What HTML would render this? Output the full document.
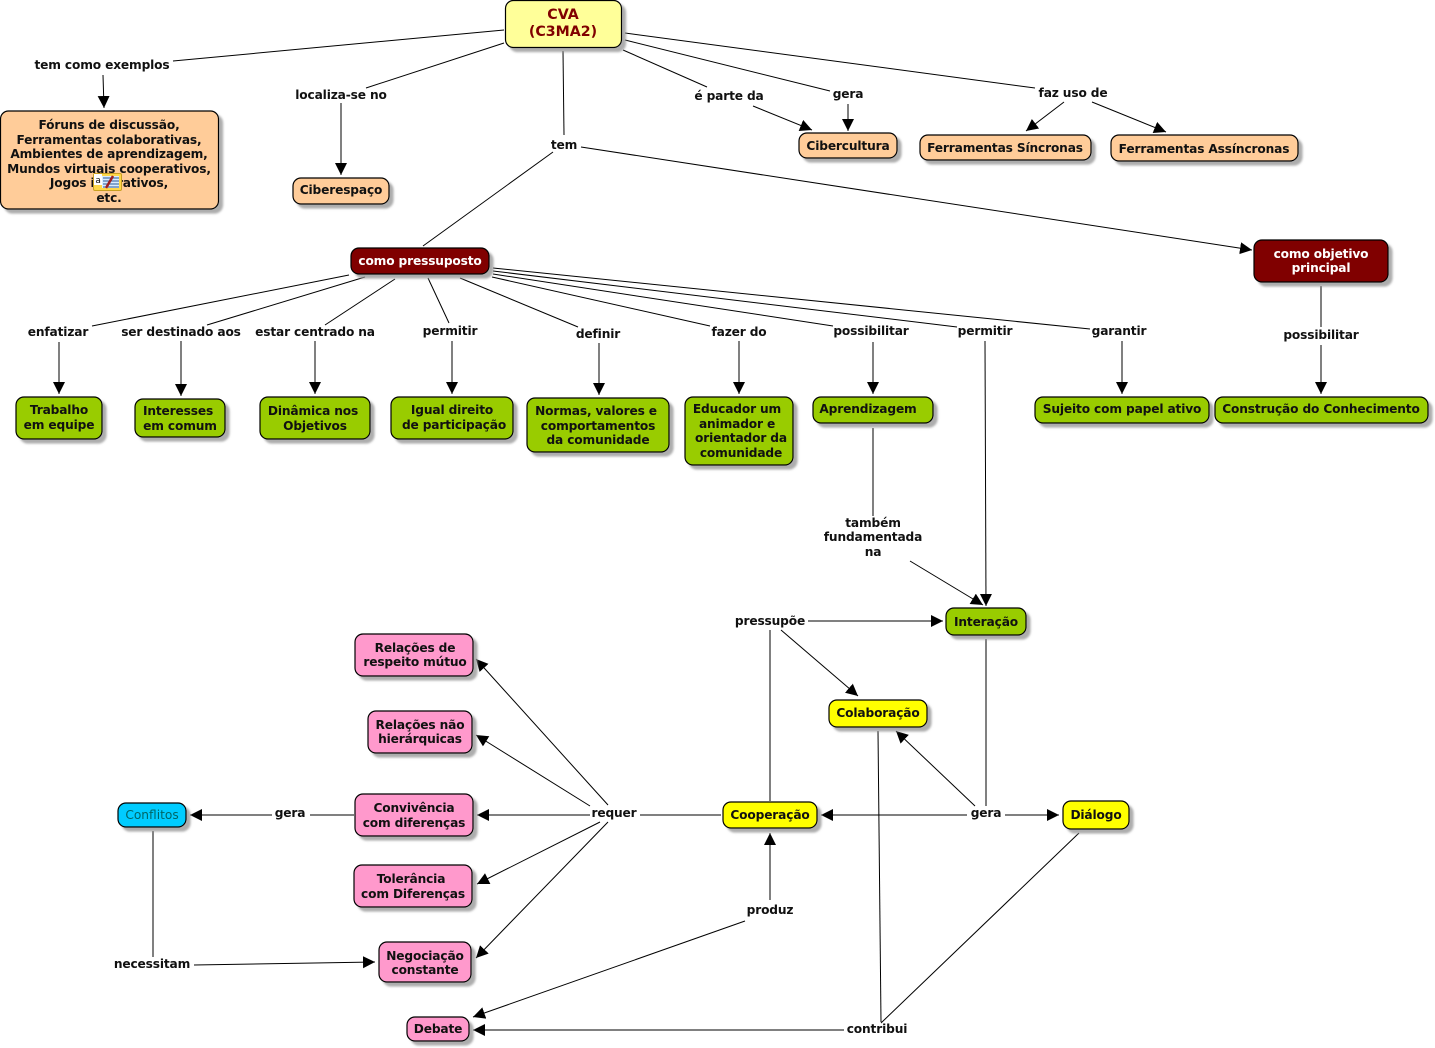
<!DOCTYPE html>
<html><head><meta charset="utf-8"><style>
html,body{margin:0;padding:0;background:#fff;width:1435px;height:1048px;overflow:hidden}
svg{display:block}
text{font-family:"DejaVu Sans","Liberation Sans",sans-serif;font-weight:bold;font-size:12.2px;letter-spacing:-.15px;fill:#111;text-anchor:middle}
.l line{stroke:#000;stroke-width:1}
.b rect{stroke:#000;stroke-width:1.2;filter:url(#s)}
</style></head><body>
<svg width="1435" height="1048" viewBox="0 0 1435 1048" xmlns="http://www.w3.org/2000/svg">
<defs>
<filter id="s" x="-10%" y="-20%" width="125%" height="150%"><feDropShadow dx="4" dy="4" stdDeviation="1" flood-color="#999" flood-opacity=".8"/></filter>
<marker id="a" markerUnits="userSpaceOnUse" markerWidth="14" markerHeight="14" refX="12" refY="6" orient="auto"><path d="M0 0L12 6L0 12Z" fill="#000"/></marker>
</defs>
<g class="l">
<line x1="504" y1="30" x2="173" y2="61"/><line x1="103" y1="75" x2="104" y2="108" marker-end="url(#a)"/>
<line x1="504" y1="43" x2="366" y2="88"/><line x1="341" y1="103" x2="341" y2="175" marker-end="url(#a)"/>
<line x1="563" y1="51" x2="564" y2="135"/><line x1="553" y1="152" x2="423" y2="246"/><line x1="581" y1="147" x2="1252" y2="250" marker-end="url(#a)"/>
<line x1="623" y1="50" x2="707" y2="87"/><line x1="753" y1="106" x2="812" y2="130" marker-end="url(#a)"/>
<line x1="625" y1="40" x2="830" y2="91"/><line x1="848" y1="104" x2="848" y2="131" marker-end="url(#a)"/>
<line x1="625" y1="33" x2="1035" y2="88"/><line x1="1064" y1="102" x2="1026" y2="131" marker-end="url(#a)"/><line x1="1092" y1="102" x2="1166" y2="132" marker-end="url(#a)"/>
<line x1="349" y1="275" x2="92" y2="326"/><line x1="59" y1="342" x2="59" y2="394" marker-end="url(#a)"/>
<line x1="365" y1="277" x2="207" y2="325"/><line x1="181" y1="341" x2="181" y2="396" marker-end="url(#a)"/>
<line x1="395" y1="279" x2="325" y2="325"/><line x1="315" y1="341" x2="315" y2="394" marker-end="url(#a)"/>
<line x1="428" y1="278" x2="449" y2="323"/><line x1="452" y1="341" x2="452" y2="394" marker-end="url(#a)"/>
<line x1="460" y1="278" x2="578" y2="327"/><line x1="599" y1="343" x2="599" y2="395" marker-end="url(#a)"/>
<line x1="492" y1="277" x2="710" y2="326"/><line x1="739" y1="341" x2="739" y2="394" marker-end="url(#a)"/>
<line x1="493" y1="274" x2="833" y2="326"/><line x1="873" y1="342" x2="873" y2="394" marker-end="url(#a)"/>
<line x1="493" y1="271" x2="957" y2="327"/><line x1="985" y1="341" x2="986" y2="606" marker-end="url(#a)"/>
<line x1="493" y1="268" x2="1090" y2="329"/><line x1="1122" y1="341" x2="1122" y2="394" marker-end="url(#a)"/>
<line x1="1321" y1="286" x2="1321" y2="327"/><line x1="1321" y1="345" x2="1321" y2="394" marker-end="url(#a)"/>
<line x1="873" y1="428" x2="873" y2="516"/><line x1="910" y1="561" x2="983" y2="605" marker-end="url(#a)"/>
<line x1="770" y1="801" x2="770" y2="630"/><line x1="808" y1="621" x2="943" y2="621" marker-end="url(#a)"/><line x1="781" y1="630" x2="858" y2="696" marker-end="url(#a)"/>
<line x1="986" y1="639" x2="986" y2="806"/><line x1="975" y1="806" x2="896" y2="731" marker-end="url(#a)"/>
<line x1="967" y1="815" x2="821" y2="815" marker-end="url(#a)"/><line x1="1005" y1="815" x2="1059" y2="815" marker-end="url(#a)"/>
<line x1="721" y1="815" x2="640" y2="815"/>
<line x1="608" y1="805" x2="476" y2="659" marker-end="url(#a)"/><line x1="590" y1="806" x2="476" y2="735" marker-end="url(#a)"/>
<line x1="590" y1="815" x2="477" y2="815" marker-end="url(#a)"/><line x1="600" y1="822" x2="477" y2="884" marker-end="url(#a)"/><line x1="608" y1="822" x2="476" y2="958" marker-end="url(#a)"/>
<line x1="354" y1="815" x2="310" y2="815"/><line x1="272" y1="815" x2="190" y2="815" marker-end="url(#a)"/>
<line x1="153" y1="831" x2="153" y2="957"/><line x1="194" y1="965" x2="375" y2="962" marker-end="url(#a)"/>
<line x1="770" y1="900" x2="770" y2="833" marker-end="url(#a)"/><line x1="745" y1="921" x2="473" y2="1017" marker-end="url(#a)"/>
<line x1="878" y1="731" x2="881" y2="1022"/><line x1="1079" y1="833" x2="881" y2="1023"/><line x1="844" y1="1030" x2="473" y2="1030" marker-end="url(#a)"/>
</g>
<g class="b">
<rect x="505.500" y="0.500" width="116" height="47" rx="8" fill="#ffff99"/>
<rect x="0.500" y="111" width="218" height="98" rx="8" fill="#ffcc99"/>
<rect x="293" y="178" width="96" height="26" rx="8" fill="#ffcc99"/>
<rect x="799" y="133" width="98" height="25" rx="8" fill="#ffcc99"/>
<rect x="920" y="135" width="171" height="25" rx="8" fill="#ffcc99"/>
<rect x="1111" y="135" width="187" height="26" rx="8" fill="#ffcc99"/>
<rect x="351" y="248" width="138" height="26" rx="8" fill="#800000"/>
<rect x="1254" y="240" width="134" height="42" rx="8" fill="#800000"/>
<rect x="16" y="397" width="86" height="42" rx="8" fill="#99cc00"/>
<rect x="135" y="399" width="90" height="38" rx="8" fill="#99cc00"/>
<rect x="260" y="397" width="110" height="42" rx="8" fill="#99cc00"/>
<rect x="391" y="397" width="122" height="42" rx="8" fill="#99cc00"/>
<rect x="527" y="398" width="142" height="54" rx="8" fill="#99cc00"/>
<rect x="685" y="397" width="108" height="68" rx="8" fill="#99cc00"/>
<rect x="813" y="397" width="120" height="26" rx="8" fill="#99cc00"/>
<rect x="1035" y="397" width="174" height="26" rx="8" fill="#99cc00"/>
<rect x="1215" y="397" width="213" height="26" rx="8" fill="#99cc00"/>
<rect x="946" y="608" width="80" height="27" rx="8" fill="#99cc00"/>
<rect x="829" y="700" width="98" height="27" rx="8" fill="#ffff00"/>
<rect x="723" y="802" width="94" height="26" rx="8" fill="#ffff00"/>
<rect x="1063" y="801" width="66" height="28" rx="8" fill="#ffff00"/>
<rect x="355" y="634" width="118" height="42" rx="8" fill="#ff99cc"/>
<rect x="368" y="711" width="104" height="42" rx="8" fill="#ff99cc"/>
<rect x="355" y="794" width="118" height="42" rx="8" fill="#ff99cc"/>
<rect x="354" y="865" width="118" height="42" rx="8" fill="#ff99cc"/>
<rect x="379" y="942" width="92" height="40" rx="8" fill="#ff99cc"/>
<rect x="407" y="1017" width="62" height="24" rx="8" fill="#ff99cc"/>
<rect x="118" y="803" width="68" height="24" rx="8" fill="#00ccff"/>
</g>
<g>
<text x="102" y="69">tem como exemplos</text>
<text x="341" y="99">localiza-se no</text>
<text x="564" y="149">tem</text>
<text x="729" y="100">é parte da</text>
<text x="848" y="98">gera</text>
<text x="1073" y="97">faz uso de</text>
<text x="58" y="336">enfatizar</text>
<text x="181" y="336">ser destinado aos</text>
<text x="315" y="336">estar centrado na</text>
<text x="450" y="335">permitir</text>
<text x="598" y="338">definir</text>
<text x="739" y="336">fazer do</text>
<text x="871" y="335">possibilitar</text>
<text x="985" y="335">permitir</text>
<text x="1119" y="335">garantir</text>
<text x="1321" y="339">possibilitar</text>
<text x="873" y="527">também</text><text x="873" y="541">fundamentada</text><text x="873" y="556">na</text>
<text x="770" y="625">pressupõe</text>
<text x="614" y="817">requer</text>
<text x="986" y="817">gera</text>
<text x="290" y="817">gera</text>
<text x="152" y="968">necessitam</text>
<text x="770" y="914">produz</text>
<text x="877" y="1033">contribui</text>

<text x="563" y="19" style="fill:#800000;font-size:14.2px;letter-spacing:0">CVA</text><text x="563" y="36" style="fill:#800000;font-size:14.2px;letter-spacing:0">(C3MA2)</text>
<text x="109" y="129">Fóruns de discussão,</text><text x="109" y="144">Ferramentas colaborativas,</text><text x="109" y="158">Ambientes de aprendizagem,</text><text x="109" y="173">Mundos virtuais cooperativos,</text><text x="109" y="187">Jogos interativos,</text><text x="109" y="202">etc.</text>
<text x="341" y="194">Ciberespaço</text>
<text x="848" y="150">Cibercultura</text>
<text x="1005" y="152">Ferramentas Síncronas</text>
<text x="1204" y="153">Ferramentas Assíncronas</text>
<text x="420" y="265" style="fill:#fff">como pressuposto</text>
<text x="1321" y="258" style="fill:#fff">como objetivo</text><text x="1321" y="272" style="fill:#fff">principal</text>
<text x="59" y="414">Trabalho</text><text x="59" y="429">em equipe</text>
<text x="178" y="415">Interesses</text><text x="180" y="430">em comum</text>
<text x="313" y="415">Dinâmica nos</text><text x="315" y="430">Objetivos</text>
<text x="452" y="414">Igual direito</text><text x="454" y="429">de participação</text>
<text x="596" y="415">Normas, valores e</text><text x="598" y="430">comportamentos</text><text x="598" y="444">da comunidade</text>
<text x="737" y="413">Educador um</text><text x="737" y="428">animador e</text><text x="741" y="442">orientador da</text><text x="741" y="457">comunidade</text>
<text x="868" y="413">Aprendizagem</text>
<text x="1122" y="413">Sujeito com papel ativo</text>
<text x="1321" y="413">Construção do Conhecimento</text>
<text x="986" y="626">Interação</text>
<text x="878" y="717">Colaboração</text>
<text x="770" y="819">Cooperação</text>
<text x="1096" y="819">Diálogo</text>
<text x="415" y="652">Relações de</text><text x="415" y="666">respeito mútuo</text>
<text x="420" y="729">Relações não</text><text x="420" y="743">hierárquicas</text>
<text x="414" y="812">Convivência</text><text x="414" y="827">com diferenças</text>
<text x="411" y="883">Tolerância</text><text x="413" y="898">com Diferenças</text>
<text x="425" y="960">Negociação</text><text x="425" y="974">constante</text>
<text x="438" y="1033">Debate</text>
<text x="152" y="819" style="font-weight:normal;fill:#006666;letter-spacing:0">Conflitos</text>
<g>
<rect x="93.500" y="173.500" width="28" height="17" rx="1.500" fill="#ffd84a" stroke="#c9a020"/>
<rect x="94" y="174" width="8" height="11" fill="#fff"/>
<text x="98" y="183" style="font-size:9px;font-weight:normal">a</text>
<rect x="102" y="176" width="17" height="12" fill="#d8ecff"/>
<path d="M103 178H119M103 181H119M103 184H119M103 187H119" stroke="#2a5a9a" stroke-width="1"/>
<path d="M106 188L113 176" stroke="#a02020" stroke-width="2.500"/>
</g>
</g>
</svg>
</body></html>
